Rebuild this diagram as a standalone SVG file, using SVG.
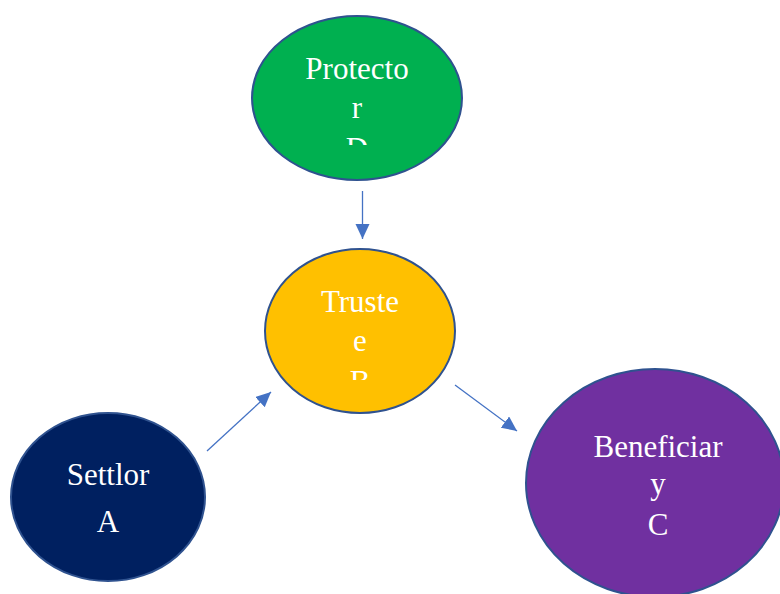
<svg xmlns="http://www.w3.org/2000/svg" width="780" height="594" viewBox="0 0 780 594">
<style>
.node{stroke:#2F528F;stroke-width:2}
.lbl{font-family:"Liberation Serif","Times New Roman",serif;font-size:31px;fill:#FFFFFF;text-anchor:middle}
.conn{stroke:#4472C4;stroke-width:1.3;fill:none;marker-end:url(#arr)}
</style>
<defs>
<marker id="arr" markerUnits="userSpaceOnUse" markerWidth="16" markerHeight="16" refX="15" refY="7" orient="auto">
<path d="M0,0 L15,7 L0,14 Z" fill="#4472C4"/>
</marker>
<clipPath id="clipP"><rect x="250" y="0" width="220" height="145"/></clipPath>
<clipPath id="clipT"><rect x="260" y="240" width="200" height="140"/></clipPath>
</defs>
<rect width="780" height="594" fill="#FFFFFF"/>
<g id="connectors">
<line class="conn" x1="362.5" y1="191" x2="362.5" y2="239"/>
<line class="conn" x1="207" y1="451" x2="271" y2="392"/>
<line class="conn" x1="455" y1="385" x2="517" y2="431"/>
</g>
<g id="protector">
<ellipse class="node" cx="357" cy="98" rx="105" ry="82" fill="#00B050"/>
<g clip-path="url(#clipP)">
<text class="lbl" x="357" y="79">Protecto</text>
<text class="lbl" x="357" y="118">r</text>
<text class="lbl" x="357" y="159">D</text>
</g>
</g>
<g id="trustee">
<ellipse class="node" cx="360" cy="331" rx="95" ry="82" fill="#FFC000"/>
<g clip-path="url(#clipT)">
<text class="lbl" x="360" y="312">Truste</text>
<text class="lbl" x="360" y="351">e</text>
<text class="lbl" x="360" y="392">B</text>
</g>
</g>
<g id="settlor">
<ellipse class="node" cx="108" cy="497" rx="97" ry="84" fill="#002060"/>
<text class="lbl" x="108" y="485">Settlor</text>
<text class="lbl" x="108" y="532">A</text>
</g>
<g id="beneficiary">
<ellipse class="node" cx="655" cy="483" rx="129" ry="114" fill="#7030A0"/>
<text class="lbl" x="658" y="457">Beneficiar</text>
<text class="lbl" x="658" y="494">y</text>
<text class="lbl" x="658" y="535">C</text>
</g>
</svg>
